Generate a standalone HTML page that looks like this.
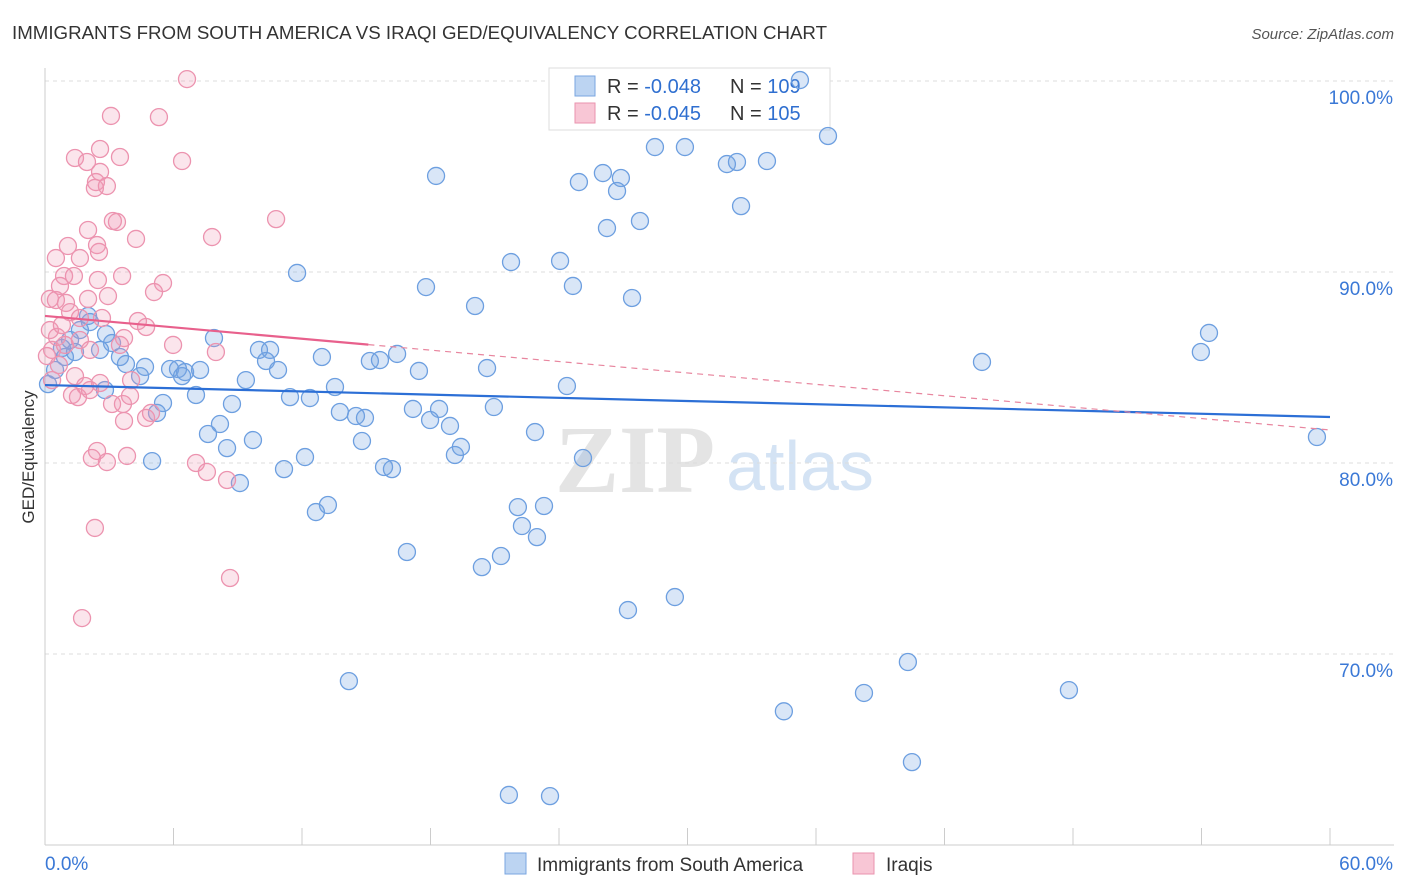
<!DOCTYPE html>
<html><head><meta charset="utf-8">
<style>
body{margin:0;background:#fff;font-family:"Liberation Sans",sans-serif;}
#wrap{position:relative;width:1406px;height:892px;overflow:hidden;}
</style></head>
<body>
<div id="wrap">
<svg id="svg" width="1406" height="892" xmlns="http://www.w3.org/2000/svg">
<text x="12" y="39" font-size="18" fill="#333" textLength="815" lengthAdjust="spacingAndGlyphs">IMMIGRANTS FROM SOUTH AMERICA VS IRAQI GED/EQUIVALENCY CORRELATION CHART</text>
<text x="1394" y="39" font-size="15" fill="#555" font-style="italic" text-anchor="end">Source: ZipAtlas.com</text>
<text x="34" y="457" font-size="17" fill="#333" text-anchor="middle" transform="rotate(-90 34 457)">GED/Equivalency</text>
<g>
<text x="635" y="492" font-size="96" fill="#e4e4e4" font-family="Liberation Serif" text-anchor="middle" font-weight="bold">ZIP</text>
<text x="800" y="490" font-size="70" fill="#d4e3f4" text-anchor="middle">atlas</text>
</g>
<g id="grid"></g>
<g id="axes"></g>
<g>
<rect x="549" y="68" width="281" height="62" fill="#fff" stroke="#ddd"/>
<rect x="575" y="76" width="20" height="20" fill="#bcd4f2" stroke="#7aa6e0"/>
<text x="607" y="93" font-size="20" fill="#333">R = <tspan fill="#2f6fd0">-0.048</tspan></text>
<text x="730" y="93" font-size="20" fill="#333">N = <tspan fill="#2f6fd0">109</tspan></text>
<rect x="575" y="103" width="20" height="20" fill="#f8c6d5" stroke="#ea93ae"/>
<text x="607" y="120" font-size="20" fill="#333">R = <tspan fill="#2f6fd0">-0.045</tspan></text>
<text x="730" y="120" font-size="20" fill="#333">N = <tspan fill="#2f6fd0">105</tspan></text>
</g>
<g id="marks"></g>
<g id="trends"></g>
<g>
<rect x="505" y="853" width="21" height="21" fill="#bcd4f2" stroke="#7aa6e0"/>
<text x="537" y="871" font-size="19" fill="#333">Immigrants from South America</text>
<rect x="853" y="853" width="21" height="21" fill="#f8c6d5" stroke="#ea93ae"/>
<text x="886" y="871" font-size="19" fill="#333">Iraqis</text>
</g>
</svg>
</div>
<script>
const yTicks=[100,90,80,70];
const yTickLabels=["100.0%","90.0%","80.0%","70.0%"];
const xTicks=[0,6,12,18,24,30,36,42,48,54,60];
const blueX=[35.25,36.56,28.48,29.88,31.84,32.31,33.71,18.26,26.05,26.89,24.93,26.71,32.50,27.78,26.24,21.76,24.05,11.77,17.79,24.65,27.41,20.08,54.35,53.97,43.75,7.89,2.01,2.85,3.13,2.57,0.79,1.17,3.50,3.78,4.67,5.84,6.21,6.54,7.24,6.40,4.44,9.38,9.99,10.51,10.32,10.88,12.93,15.17,15.64,16.44,17.46,20.64,24.37,13.54,7.05,11.44,12.37,5.51,5.23,8.73,13.77,14.52,14.94,17.18,18.40,17.98,18.91,20.96,22.88,8.17,7.61,9.71,14.80,8.50,19.42,19.14,12.14,25.12,11.16,15.83,16.20,5.00,9.10,13.21,12.65,22.08,23.30,22.27,22.97,16.90,21.29,20.40,27.22,29.41,40.29,38.24,47.81,14.19,34.50,40.48,21.66,23.58,59.39,0.14,0.47,0.93,1.40,1.63,2.10,2.80];
const blueY=[100.05,97.12,96.54,96.54,95.65,95.76,95.81,95.03,95.18,94.92,94.71,94.24,93.45,92.67,92.30,90.52,90.58,89.95,89.21,89.27,88.64,88.22,86.81,85.81,85.29,86.54,87.70,86.75,86.28,85.92,86.02,86.44,85.55,85.18,85.03,84.92,84.92,84.76,84.87,84.55,84.55,84.34,85.92,85.92,85.34,84.87,85.55,85.34,85.39,85.71,84.82,84.97,84.03,83.98,83.56,83.45,83.40,83.14,82.62,83.09,82.67,82.46,82.36,82.83,82.83,82.25,81.94,82.93,81.62,82.04,81.52,81.20,81.15,80.78,80.84,80.42,80.31,80.26,79.68,79.79,79.68,80.10,78.95,77.80,77.43,77.69,77.75,76.70,76.12,75.34,75.13,74.55,72.30,72.98,69.58,67.96,68.11,68.58,67.00,64.34,62.62,62.56,81.36,84.13,84.87,85.55,85.81,86.96,87.38,83.82];
const pinkX=[6.63,3.08,5.32,2.57,3.50,1.40,1.96,6.40,2.57,2.38,2.33,2.89,3.36,3.17,10.79,7.80,4.25,2.01,1.07,2.43,0.51,1.63,2.52,0.89,1.35,2.47,3.60,5.51,5.09,0.70,0.23,0.51,0.98,2.01,2.94,1.17,1.63,2.66,4.34,4.72,0.56,0.33,0.93,1.63,2.10,3.69,3.50,5.98,7.98,0.65,1.40,1.87,2.57,4.02,1.26,1.54,2.10,3.13,3.64,3.97,4.72,4.95,3.69,2.43,2.89,2.19,3.83,7.05,7.56,8.50,2.33,8.64,1.73,0.23,0.09,0.33,0.79];
const pinkY=[100.10,98.17,98.11,96.44,96.02,95.97,95.76,95.81,95.24,94.71,94.40,94.50,92.62,92.67,92.77,91.83,91.73,92.20,91.36,91.41,90.73,90.73,91.05,89.79,89.79,89.58,89.79,89.42,88.95,89.27,88.59,88.53,88.38,88.59,88.74,87.90,87.59,87.59,87.43,87.12,86.60,85.92,86.18,86.44,85.92,86.54,86.18,86.18,85.81,85.13,84.55,84.03,84.19,84.34,83.56,83.45,83.82,83.09,83.09,83.51,82.36,82.62,82.20,80.63,80.05,80.26,80.37,80.00,79.53,79.11,76.60,73.98,71.88,86.96,85.60,84.34,87.22];
const blueTrend=[84.08,82.41];
const pinkTrend=[87.70,81.73];
const pinkSolidEnd=15.1;

const NS="http://www.w3.org/2000/svg";
const X=v=>45+v/60*1285;
const Y=v=>81+(100-v)*19.1;
function mk(tag,attrs,parent){const e=document.createElementNS(NS,tag);for(const k in attrs)e.setAttribute(k,attrs[k]);document.getElementById(parent).appendChild(e);return e;}
yTicks.forEach((t,i)=>{
 const g=mk('line',{x1:45,x2:1394,y1:Y(t),y2:Y(t),stroke:'#ddd','stroke-dasharray':'4,4'},'grid');
 
 
 const l=mk('text',{x:1393,y:Y(t)+23,'font-size':19,fill:'#3a78d6','text-anchor':'end'},'axes');
 l.textContent=yTickLabels[i];
 
 
});
const ya=mk('line',{x1:45,x2:45,y1:68,y2:845,stroke:'#ccc'},'axes');


const xa=mk('line',{x1:45,x2:1394,y1:845,y2:845,stroke:'#ccc'},'axes');


xTicks.forEach(t=>{
 const tk=mk('line',{x1:X(t),x2:X(t),y1:828,y2:845,stroke:'#ccc'},'axes');
 
 
});
const x0=mk('text',{x:45,y:870,'font-size':19,fill:'#3a78d6'},'axes');x0.textContent='0.0%';


const x1=mk('text',{x:1393,y:870,'font-size':19,fill:'#3a78d6','text-anchor':'end'},'axes');x1.textContent='60.0%';


blueX.forEach((v,i)=>{
 const c=mk('circle',{cx:X(v),cy:Y(blueY[i]),r:8.5,fill:'rgba(120,165,225,0.28)',stroke:'#6d9fe0','stroke-width':1.3},'marks');
 
 
});
pinkX.forEach((v,i)=>{
 const c=mk('circle',{cx:X(v),cy:Y(pinkY[i]),r:8.5,fill:'rgba(240,150,180,0.25)',stroke:'#ec93af','stroke-width':1.3},'marks');
 
 
});
const bt=mk('line',{x1:X(0),y1:Y(blueTrend[0]),x2:X(60),y2:Y(blueTrend[1]),stroke:'#2c6fd6','stroke-width':2.2},'trends');


const pAt=x=>pinkTrend[0]+(pinkTrend[1]-pinkTrend[0])*x/60;
const pt=mk('line',{x1:X(0),y1:Y(pinkTrend[0]),x2:X(pinkSolidEnd),y2:Y(pAt(pinkSolidEnd)),stroke:'#e8608c','stroke-width':2.2},'trends');


const pd=mk('line',{x1:X(pinkSolidEnd),y1:Y(pAt(pinkSolidEnd)),x2:X(60),y2:Y(pinkTrend[1]),stroke:'#e8869f','stroke-width':1.2,'stroke-dasharray':'6,5'},'trends');


</script>
</body></html>
